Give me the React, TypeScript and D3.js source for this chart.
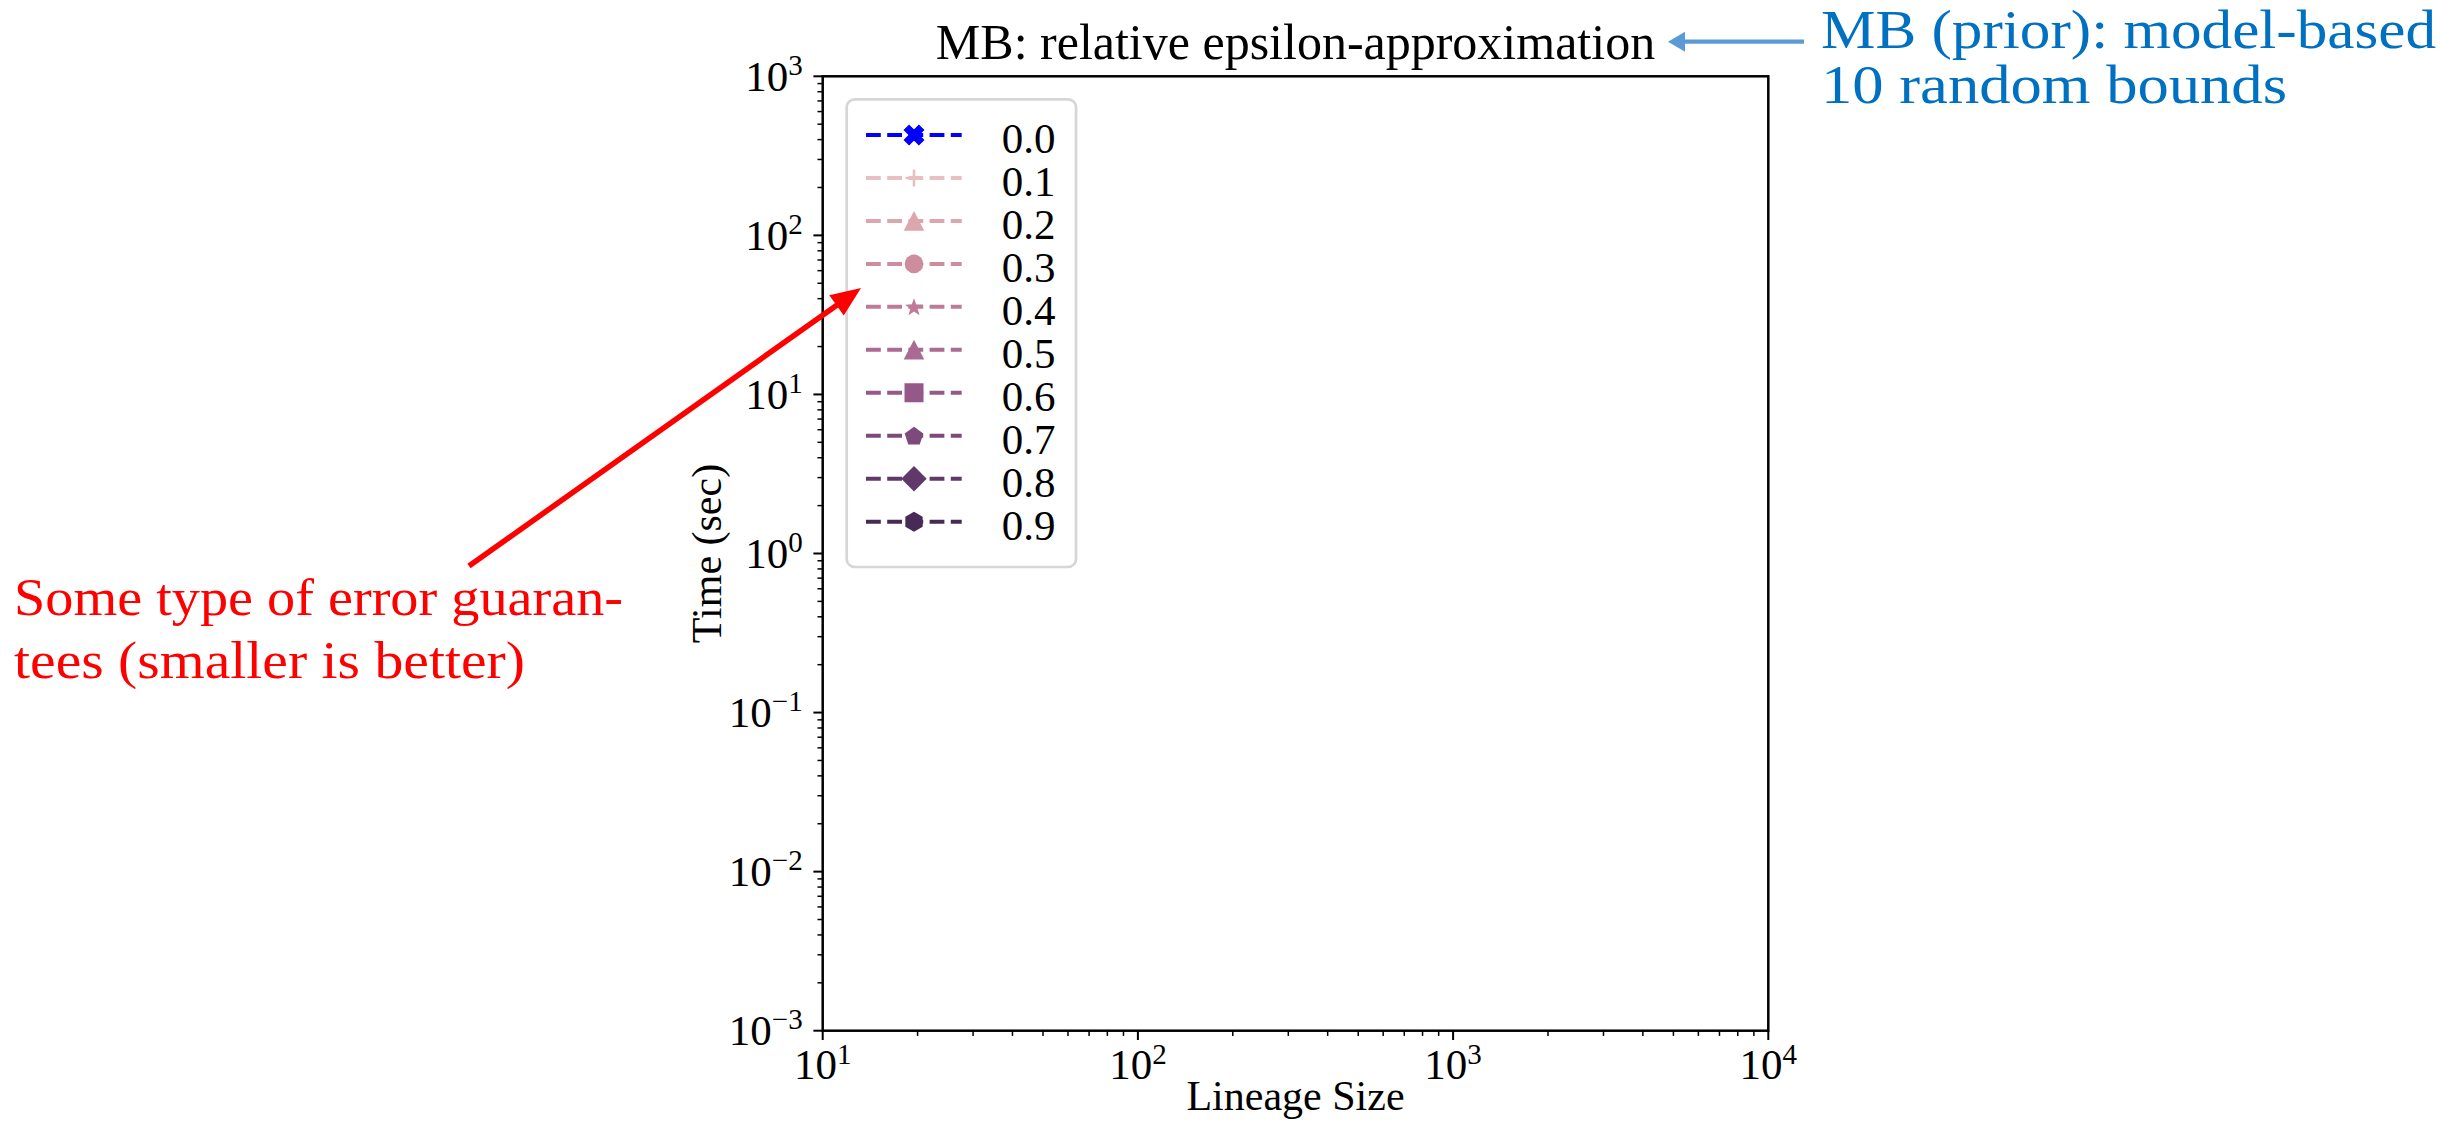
import React from 'react';
import * as d3 from 'd3';

// ---------- data ----------
const epsilons = ['0.0', '0.1', '0.2', '0.3', '0.4', '0.5', '0.6', '0.7', '0.8', '0.9'];
const seriesColors = [
  '#0000ff', '#e6c0c2', '#dba6ad', '#cd8d9f', '#bf7a97',
  '#aa6a91', '#955888', '#7d4a7b', '#60386a', '#472a56',
];
const seriesMarkers = ['X', 'plus', 'triangle', 'circle', 'star', 'triangle', 'square', 'pentagon', 'diamond', 'hexagon'];
// The reference plot area is empty: no series points are drawn.
const seriesValues: { x: number; y: number }[][] = epsilons.map(() => []);
const xTickExponents = [1, 2, 3, 4];
const yTickExponents = [-3, -2, -1, 0, 1, 2, 3];
const minorMultiples = [2, 3, 4, 5, 6, 7, 8, 9];
const titleText = 'MB: relative epsilon-approximation';
const xLabelText = 'Lineage Size';
const yLabelText = 'Time (sec)';
const redNote = ['Some type of error guaran-', 'tees (smaller is better)'];
const blueNote = ['MB (prior): model-based', '10 random bounds'];

// ---------- layout ----------
const W = 2463;
const H = 1121;
const M = { left: 822.7, right: 1768.3, top: 76.3, bottom: 1030.7 };
const SERIF = '"Liberation Serif", "DejaVu Serif", serif';

const x = d3.scaleLog().domain([10, 1e4]).range([M.left, M.right]);
const y = d3.scaleLog().domain([1e-3, 1e3]).range([M.bottom, M.top]);

function polygon(n: number, R: number, inner?: number): string {
  const pts: [number, number][] = [];
  const count = inner ? n * 2 : n;
  for (let i = 0; i < count; i++) {
    const r = inner && i % 2 === 1 ? inner : R;
    const a = -Math.PI / 2 + (i * 2 * Math.PI) / count;
    pts.push([r * Math.cos(a), r * Math.sin(a)]);
  }
  return 'M' + pts.map((p) => p[0].toFixed(2) + ',' + p[1].toFixed(2)).join('L') + 'Z';
}

function Marker({ kind, color, cx, cy }: { kind: string; color: string; cx: number; cy: number }) {
  const t = `translate(${cx},${cy})`;
  switch (kind) {
    case 'X':
      return (
        <path
          d={d3.symbol(d3.symbolCross, 238)() as string}
          transform={`${t} rotate(45)`}
          fill={color}
          stroke={color}
          strokeWidth={1}
        />
      );
    case 'plus':
      return <path d="M-8.5,0H8.5M0,-8.5V8.5" transform={t} stroke={color} strokeWidth={2.6} fill="none" />;
    case 'triangle':
      return <path d="M0,-10L-10.3,9.8L10.3,9.8Z" transform={t} fill={color} />;
    case 'circle':
      return <circle cx={cx} cy={cy} r={9.3} fill={color} />;
    case 'star':
      return <path d={polygon(5, 9.4, 3.8)} transform={`${t} translate(0,0.8)`} fill={color} />;
    case 'square':
      return <rect x={cx - 9.5} y={cy - 9.5} width={19} height={19} fill={color} />;
    case 'pentagon':
      return <path d={polygon(5, 9.8)} transform={`${t} translate(0,0.8)`} fill={color} />;
    case 'diamond':
      return <path d="M0,-12.7L12.7,0L0,12.7L-12.7,0Z" transform={t} fill={color} />;
    case 'hexagon':
      return <path d={polygon(6, 10)} transform={t} fill={color} />;
    default:
      return null;
  }
}

function Arrow({ x1, y1, x2, y2, color, width, headLen, headW }: any) {
  const ang = Math.atan2(y2 - y1, x2 - x1);
  const bx = x2 - headLen * Math.cos(ang);
  const by = y2 - headLen * Math.sin(ang);
  const px = -Math.sin(ang) * headW / 2;
  const py = Math.cos(ang) * headW / 2;
  return (
    <g>
      <line x1={x1} y1={y1} x2={bx + Math.cos(ang) * 2} y2={by + Math.sin(ang) * 2} stroke={color} strokeWidth={width} />
      <path d={`M${x2},${y2}L${bx + px},${by + py}L${bx - px},${by - py}Z`} fill={color} />
    </g>
  );
}

function supText(e: number) {
  return e < 0 ? '\u2212' + Math.abs(e) : String(e);
}

export default function App() {
  const minorX: number[] = [];
  xTickExponents.slice(0, -1).forEach((e) => minorMultiples.forEach((k) => minorX.push(k * Math.pow(10, e))));
  const minorY: number[] = [];
  yTickExponents.slice(0, -1).forEach((e) => minorMultiples.forEach((k) => minorY.push(k * Math.pow(10, e))));

  const legend = { x: 846.7, y: 99.3, w: 229.3, h: 467.7, row0: 135, step: 42.96 };
  const lineX0 = 866;
  const lineX1 = 961.7;
  const markX = 914;
  const textX = 1001.7;

  const line = d3
    .line<{ x: number; y: number }>()
    .x((d) => x(d.x))
    .y((d) => y(d.y));

  return (
    <svg
      width={W}
      height={H}
      viewBox={`0 0 ${W} ${H}`}
      style={{ position: 'absolute', left: 0, top: 0, display: 'block', background: '#fff' }}
      fontFamily={SERIF}
    >
      <rect x={0} y={0} width={W} height={H} fill="#fff" />

      {/* series (empty in reference) */}
      {seriesValues.map((vals, i) =>
        vals.length ? (
          <path key={i} d={line(vals) || ''} fill="none" stroke={seriesColors[i]} strokeWidth={4} strokeDasharray="14.8,6.4" />
        ) : null
      )}

      {/* minor ticks */}
      {minorY.map((v, i) => (
        <line key={'my' + i} x1={M.left - 5.2} x2={M.left} y1={y(v)} y2={y(v)} stroke="#000" strokeWidth={1.5} />
      ))}
      {minorX.map((v, i) => (
        <line key={'mx' + i} x1={x(v)} x2={x(v)} y1={M.bottom} y2={M.bottom + 5.2} stroke="#000" strokeWidth={1.5} />
      ))}
      {/* major ticks */}
      {yTickExponents.map((e) => (
        <line key={'Y' + e} x1={M.left - 9.3} x2={M.left} y1={y(Math.pow(10, e))} y2={y(Math.pow(10, e))} stroke="#000" strokeWidth={2} />
      ))}
      {xTickExponents.map((e) => (
        <line key={'X' + e} x1={x(Math.pow(10, e))} x2={x(Math.pow(10, e))} y1={M.bottom} y2={M.bottom + 9.3} stroke="#000" strokeWidth={2} />
      ))}

      {/* spines */}
      <rect x={M.left} y={M.top} width={M.right - M.left} height={M.bottom - M.top} fill="none" stroke="#000" strokeWidth={2.5} />

      {/* tick labels */}
      {yTickExponents.map((e) => (
        <text key={'yl' + e} x={802.7} y={y(Math.pow(10, e)) + 14.5} textAnchor="end" fontSize={43} fill="#000">
          10
          <tspan dy={-16} fontSize={29}>
            {supText(e)}
          </tspan>
        </text>
      ))}
      {xTickExponents.map((e) => (
        <text key={'xl' + e} x={x(Math.pow(10, e))} y={1079} textAnchor="middle" fontSize={43} fill="#000">
          10
          <tspan dy={-15} fontSize={29}>
            {supText(e)}
          </tspan>
        </text>
      ))}

      {/* axis labels and title */}
      <text x={(M.left + M.right) / 2} y={1110} textAnchor="middle" fontSize={42} fill="#000">
        {xLabelText}
      </text>
      <text transform={`translate(721,${(M.top + M.bottom) / 2}) rotate(-90)`} textAnchor="middle" fontSize={42} fill="#000">
        {yLabelText}
      </text>
      <text x={(M.left + M.right) / 2} y={59.3} textAnchor="middle" fontSize={50} fill="#000">
        {titleText}
      </text>

      {/* legend */}
      <rect x={legend.x} y={legend.y} width={legend.w} height={legend.h} rx={8} ry={8} fill="#fff" fillOpacity={0.8} stroke="#d6d6d6" strokeWidth={2.7} />
      {epsilons.map((lab, i) => {
        const cy = legend.row0 + i * legend.step;
        return (
          <g key={'lg' + i}>
            <line x1={lineX0} x2={lineX1} y1={cy} y2={cy} stroke={seriesColors[i]} strokeWidth={4} strokeDasharray="14.8,6.4" />
            <Marker kind={seriesMarkers[i]} color={seriesColors[i]} cx={markX} cy={cy} />
            <text x={textX} y={cy + 18.3} fontSize={43} fill="#000">
              {lab}
            </text>
          </g>
        );
      })}

      {/* annotations */}
      <Arrow x1={469} y1={566} x2={861} y2={288} color="#ff0000" width={5.5} headLen={30} headW={25} />
      {redNote.map((s, i) => (
        <text key={'rn' + i} x={14} y={615 + i * 63} fontSize={53} fill="#ff0000" textLength={i === 0 ? 609 : 511} lengthAdjust="spacingAndGlyphs">
          {s}
        </text>
      ))}
      <Arrow x1={1804} y1={41.7} x2={1668} y2={41.7} color="#5b9bd5" width={4.3} headLen={17} headW={20} />
      {blueNote.map((s, i) => (
        <text key={'bn' + i} x={1821} y={48.3 + i * 55} fontSize={55} fill="#0070c0" textLength={i === 0 ? 615 : 466} lengthAdjust="spacingAndGlyphs">
          {s}
        </text>
      ))}
    </svg>
  );
}
